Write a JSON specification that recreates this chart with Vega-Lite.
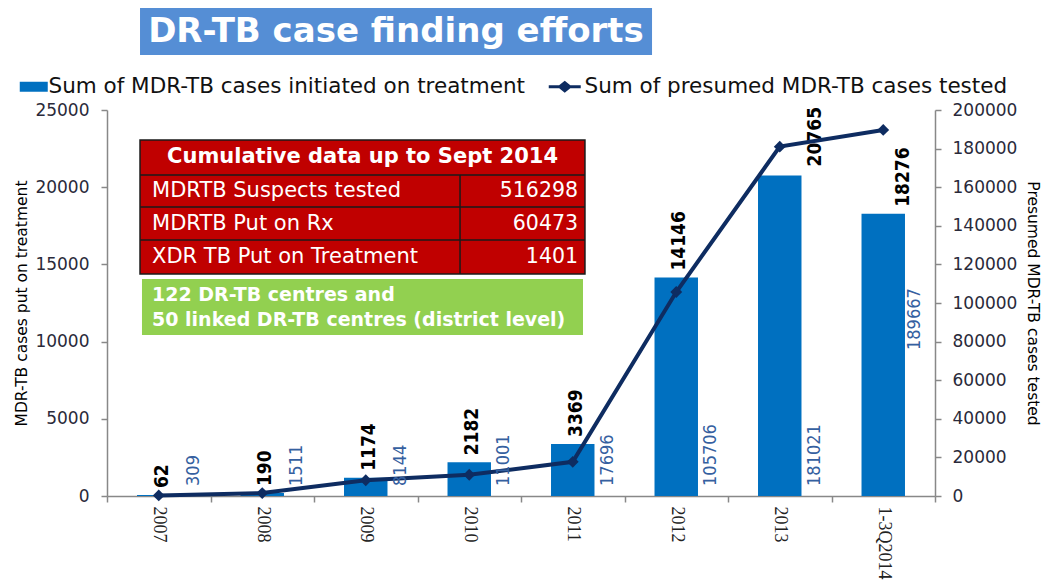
{
"$schema": "https://vega.github.io/schema/vega-lite/v6.json",
"width": 828,
"height": 386,
"autosize": {"type": "none"},
"padding": {"left": 107, "top": 110, "right": 113, "bottom": 85},
"background": "white",
"config": {"view": {"stroke": null}},
"datasets": {
"main": [
{"year": "2007", "treated": 62, "tested": 309},
{"year": "2008", "treated": 190, "tested": 1511},
{"year": "2009", "treated": 1174, "tested": 8144},
{"year": "2010", "treated": 2182, "tested": 11001},
{"year": "2011", "treated": 3369, "tested": 17696},
{"year": "2012", "treated": 14146, "tested": 105706},
{"year": "2013", "treated": 20765, "tested": 181021},
{"year": "1-3Q2014", "treated": 18276, "tested": 189667}
],
"table": [
{"item": "MDRTB Suspects tested", "value": 516298},
{"item": "MDRTB Put on Rx", "value": 60473},
{"item": "XDR TB Put on Treatment", "value": 1401}
]
},
"layer": [
{
"data": {"name": "main"},
"layer": [
{
"layer": [
{
"mark": {"type": "bar", "width": {"band": 0.42}},
"encoding": {
"x": {"field": "year", "type": "ordinal", "sort": null,
"scale": {"domain": ["2007","2008","2009","2010","2011","2012","2013","1-3Q2014"], "paddingInner": 0, "paddingOuter": 0},
"axis": {"title": null, "labelAngle": 90, "labelAlign": "left", "labelBaseline": "middle", "labelFont": "Liberation Serif", "labelFontSize": 18, "labelColor": "#222", "tickBand": "extent", "tickSize": 6, "tickColor": "#888", "tickWidth": 1.5, "domainColor": "#888", "domainWidth": 1.5, "labelPadding": 4, "grid": false}},
"y": {"field": "treated", "type": "quantitative", "scale": {"domain": [0, 25000], "nice": false},
"axis": {"title": "MDR-TB cases put on treatment", "values": [0,5000,10000,15000,20000,25000], "format": "d", "labelOverlap": false, "labelFlush": false, "grid": false, "tickSize": 6, "tickColor": "#888", "tickWidth": 1.5, "domainColor": "#888", "domainWidth": 1.5, "labelFont": "DejaVu Sans", "labelFontSize": 17, "labelColor": "#2a2a3a", "labelPadding": 12, "titleFont": "DejaVu Sans", "titleFontSize": 15.5, "titleFontWeight": "normal", "titleColor": "#000", "titlePadding": 5}},
"fill": {"datum": "Sum of MDR-TB cases initiated on treatment", "type": "nominal", "scale": {"range": ["#0070C0"]},
"legend": {"title": null, "orient": "none", "legendX": -84, "legendY": -34, "padding": 0, "symbolType": "M-2.8,-1H2.8V1H-2.8Z", "symbolSize": 100, "symbolStrokeWidth": 0, "labelFont": "DejaVu Sans", "labelFontSize": 21.5, "labelColor": "#111", "labelOffset": 4, "labelLimit": 700}}
}
},
{
"transform": [{"filter": "datum.year != '2013' && datum.year != '1-3Q2014'"}],
"mark": {"type": "text", "angle": 270, "align": "left", "baseline": "middle", "dx": 7, "font": "DejaVu Sans Condensed, Liberation Sans, sans-serif", "fontSize": 19, "fontWeight": "bold", "color": "#000"},
"encoding": {
"x": {"field": "year", "type": "ordinal", "bandPosition": 0.53},
"y": {"field": "treated", "type": "quantitative"},
"text": {"field": "treated", "type": "quantitative", "format": "d"}
}
},
{
"transform": [{"filter": "datum.year == '2013'"}],
"mark": {"type": "text", "angle": 270, "align": "left", "baseline": "middle", "dx": 9, "font": "DejaVu Sans Condensed, Liberation Sans, sans-serif", "fontSize": 19, "fontWeight": "bold", "color": "#000"},
"encoding": {
"x": {"field": "year", "type": "ordinal", "bandPosition": 0.84},
"y": {"field": "treated", "type": "quantitative"},
"text": {"field": "treated", "type": "quantitative", "format": "d"}
}
},
{
"transform": [{"filter": "datum.year == '1-3Q2014'"}],
"mark": {"type": "text", "angle": 270, "align": "left", "baseline": "middle", "dx": 7, "font": "DejaVu Sans Condensed, Liberation Sans, sans-serif", "fontSize": 19, "fontWeight": "bold", "color": "#000"},
"encoding": {
"x": {"field": "year", "type": "ordinal", "bandPosition": 0.69},
"y": {"field": "treated", "type": "quantitative"},
"text": {"field": "treated", "type": "quantitative", "format": "d"}
}
}
]
},
{
"layer": [
{
"mark": {"type": "line", "strokeWidth": 4},
"encoding": {
"x": {"field": "year", "type": "ordinal"},
"y": {"field": "tested", "type": "quantitative", "scale": {"domain": [0, 200000], "nice": false},
"axis": {"orient": "right", "title": "Presumed MDR-TB cases tested", "values": [0,20000,40000,60000,80000,100000,120000,140000,160000,180000,200000], "format": "d", "labelOverlap": false, "labelFlush": false, "grid": false, "tickSize": 6, "tickColor": "#888", "tickWidth": 1.5, "domainColor": "#888", "domainWidth": 1.5, "labelFont": "DejaVu Sans", "labelFontSize": 17, "labelColor": "#2a2a3a", "labelPadding": 11, "titleFont": "DejaVu Sans", "titleFontSize": 15.5, "titleFontWeight": "normal", "titleColor": "#000", "titlePadding": 8}},
"stroke": {"datum": "Sum of presumed MDR-TB cases tested", "type": "nominal", "scale": {"range": ["#0E2C61"]},
"legend": {"title": null, "orient": "none", "legendX": 447, "legendY": -34, "padding": 0, "symbolType": "M-3.2,0H3.2M-1,0L0,-0.8L1,0L0,0.8Z", "symbolSize": 100, "symbolStrokeWidth": 3, "symbolFillColor": "#0E2C61", "labelFont": "DejaVu Sans", "labelFontSize": 21.5, "labelColor": "#111", "labelOffset": 9, "labelLimit": 700}}
}
},
{
"mark": {"type": "point", "shape": "diamond", "filled": true, "size": 140, "color": "#0E2C61", "opacity": 1},
"encoding": {
"x": {"field": "year", "type": "ordinal"},
"y": {"field": "tested", "type": "quantitative",
"axis": {"orient": "right", "title": "Presumed MDR-TB cases tested", "values": [0,20000,40000,60000,80000,100000,120000,140000,160000,180000,200000], "format": "d", "labelOverlap": false, "labelFlush": false, "grid": false, "tickSize": 6, "tickColor": "#888", "tickWidth": 1.5, "domainColor": "#888", "domainWidth": 1.5, "labelFont": "DejaVu Sans", "labelFontSize": 17, "labelColor": "#2a2a3a", "labelPadding": 11, "titleFont": "DejaVu Sans", "titleFontSize": 15.5, "titleFontWeight": "normal", "titleColor": "#000", "titlePadding": 8}}
}
},
{
"transform": [{"filter": "datum.year != '1-3Q2014'"}],
"mark": {"type": "text", "angle": 270, "align": "left", "baseline": "middle", "font": "DejaVu Sans Condensed, Liberation Sans, sans-serif", "fontSize": 18, "color": "#3560A0"},
"encoding": {
"x": {"field": "year", "type": "ordinal", "bandPosition": 0.84},
"y": {"datum": 5200, "type": "quantitative",
"axis": {"orient": "right", "title": "Presumed MDR-TB cases tested", "values": [0,20000,40000,60000,80000,100000,120000,140000,160000,180000,200000], "format": "d", "labelOverlap": false, "labelFlush": false, "grid": false, "tickSize": 6, "tickColor": "#888", "tickWidth": 1.5, "domainColor": "#888", "domainWidth": 1.5, "labelFont": "DejaVu Sans", "labelFontSize": 17, "labelColor": "#2a2a3a", "labelPadding": 11, "titleFont": "DejaVu Sans", "titleFontSize": 15.5, "titleFontWeight": "normal", "titleColor": "#000", "titlePadding": 8}},
"text": {"field": "tested", "type": "quantitative", "format": "d"}
}
},
{
"transform": [{"filter": "datum.year == '1-3Q2014'"}],
"mark": {"type": "text", "angle": 270, "align": "left", "baseline": "middle", "font": "DejaVu Sans Condensed, Liberation Sans, sans-serif", "fontSize": 18, "color": "#3560A0"},
"encoding": {
"x": {"field": "year", "type": "ordinal", "bandPosition": 0.81},
"y": {"datum": 75648, "type": "quantitative",
"axis": {"orient": "right", "title": "Presumed MDR-TB cases tested", "values": [0,20000,40000,60000,80000,100000,120000,140000,160000,180000,200000], "format": "d", "labelOverlap": false, "labelFlush": false, "grid": false, "tickSize": 6, "tickColor": "#888", "tickWidth": 1.5, "domainColor": "#888", "domainWidth": 1.5, "labelFont": "DejaVu Sans", "labelFontSize": 17, "labelColor": "#2a2a3a", "labelPadding": 11, "titleFont": "DejaVu Sans", "titleFontSize": 15.5, "titleFontWeight": "normal", "titleColor": "#000", "titlePadding": 8}},
"text": {"field": "tested", "type": "quantitative", "format": "d"}
}
}
]
}
],
"resolve": {"scale": {"y": "independent"}}
},
{
"layer": [
{
"data": {"values": [{}]},
"mark": {"type": "rect", "color": "#558ED5"},
"encoding": {
"x": {"datum": 0.319, "type": "quantitative", "scale": {"domain": [0, 8], "nice": false}, "axis": null},
"x2": {"datum": 5.266},
"y": {"datum": 31606, "type": "quantitative", "scale": {"domain": [0, 25000], "nice": false}, "axis": null},
"y2": {"datum": 28562}
}
},
{
"data": {"values": [{}]},
"mark": {"type": "text", "text": "DR-TB case finding efforts", "align": "center", "baseline": "middle", "font": "DejaVu Sans", "fontSize": 34, "fontWeight": "bold", "color": "white"},
"encoding": {
"x": {"datum": 2.792, "type": "quantitative", "axis": null},
"y": {"datum": 30084, "type": "quantitative", "axis": null}
}
},
{
"data": {"values": [{}]},
"mark": {"type": "rect", "color": "#C00000", "stroke": "#1a1a1a", "strokeWidth": 1.5},
"encoding": {
"x": {"datum": 0.319, "type": "quantitative", "axis": null},
"x2": {"datum": 4.618},
"y": {"datum": 23057, "type": "quantitative", "axis": null},
"y2": {"datum": 14378}
}
},
{
"data": {"values": [{"yv": 20790}, {"yv": 18718}, {"yv": 16580}]},
"mark": {"type": "rule", "color": "#1a1a1a", "strokeWidth": 1.5},
"encoding": {
"x": {"datum": 0.319, "type": "quantitative", "axis": null},
"x2": {"datum": 4.618},
"y": {"field": "yv", "type": "quantitative", "axis": null}
}
},
{
"data": {"values": [{}]},
"mark": {"type": "rule", "color": "#1a1a1a", "strokeWidth": 1.5},
"encoding": {
"x": {"datum": 3.411, "type": "quantitative", "axis": null},
"y": {"datum": 20790, "type": "quantitative", "axis": null},
"y2": {"datum": 14378}
}
},
{
"data": {"values": [{}]},
"mark": {"type": "text", "text": "Cumulative data up to Sept 2014", "align": "center", "baseline": "middle", "font": "DejaVu Sans", "fontSize": 21, "fontWeight": "bold", "color": "white"},
"encoding": {
"x": {"datum": 2.469, "type": "quantitative", "axis": null},
"y": {"datum": 21956, "type": "quantitative", "axis": null}
}
},
{
"data": {"name": "table"},
"transform": [{"filter": "datum.item == 'MDRTB Suspects tested'"}],
"layer": [
{"mark": {"type": "text", "align": "left", "baseline": "middle", "font": "DejaVu Sans", "fontSize": 21, "color": "white"},
"encoding": {"x": {"datum": 0.435, "type": "quantitative", "axis": null}, "y": {"datum": 19754, "type": "quantitative", "axis": null}, "text": {"field": "item"}}},
{"mark": {"type": "text", "align": "right", "baseline": "middle", "font": "DejaVu Sans", "fontSize": 20.5, "color": "white"},
"encoding": {"x": {"datum": 4.551, "type": "quantitative", "axis": null}, "y": {"datum": 19754, "type": "quantitative", "axis": null}, "text": {"field": "value", "type": "quantitative", "format": "d"}}}
]
},
{
"data": {"name": "table"},
"transform": [{"filter": "datum.item == 'MDRTB Put on Rx'"}],
"layer": [
{"mark": {"type": "text", "align": "left", "baseline": "middle", "font": "DejaVu Sans", "fontSize": 21, "color": "white"},
"encoding": {"x": {"datum": 0.435, "type": "quantitative", "axis": null}, "y": {"datum": 17617, "type": "quantitative", "axis": null}, "text": {"field": "item"}}},
{"mark": {"type": "text", "align": "right", "baseline": "middle", "font": "DejaVu Sans", "fontSize": 20.5, "color": "white"},
"encoding": {"x": {"datum": 4.551, "type": "quantitative", "axis": null}, "y": {"datum": 17617, "type": "quantitative", "axis": null}, "text": {"field": "value", "type": "quantitative", "format": "d"}}}
]
},
{
"data": {"name": "table"},
"transform": [{"filter": "datum.item == 'XDR TB Put on Treatment'"}],
"layer": [
{"mark": {"type": "text", "align": "left", "baseline": "middle", "font": "DejaVu Sans", "fontSize": 21, "color": "white"},
"encoding": {"x": {"datum": 0.435, "type": "quantitative", "axis": null}, "y": {"datum": 15479, "type": "quantitative", "axis": null}, "text": {"field": "item"}}},
{"mark": {"type": "text", "align": "right", "baseline": "middle", "font": "DejaVu Sans", "fontSize": 20.5, "color": "white"},
"encoding": {"x": {"datum": 4.551, "type": "quantitative", "axis": null}, "y": {"datum": 15479, "type": "quantitative", "axis": null}, "text": {"field": "value", "type": "quantitative", "format": "d"}}}
]
},
{
"data": {"values": [{}]},
"mark": {"type": "rect", "color": "#92D050"},
"encoding": {
"x": {"datum": 0.338, "type": "quantitative", "axis": null},
"x2": {"datum": 4.599},
"y": {"datum": 14054, "type": "quantitative", "axis": null},
"y2": {"datum": 10427}
}
},
{
"data": {"values": [{}]},
"mark": {"type": "text", "text": "122 DR-TB centres and", "align": "left", "baseline": "middle", "font": "DejaVu Sans", "fontSize": 19, "fontWeight": "bold", "color": "white"},
"encoding": {
"x": {"datum": 0.435, "type": "quantitative", "axis": null},
"y": {"datum": 13018, "type": "quantitative", "axis": null}
}
},
{
"data": {"values": [{}]},
"mark": {"type": "text", "text": "50 linked DR-TB centres (district level)", "align": "left", "baseline": "middle", "font": "DejaVu Sans", "fontSize": 19, "fontWeight": "bold", "color": "white"},
"encoding": {
"x": {"datum": 0.435, "type": "quantitative", "axis": null},
"y": {"datum": 11399, "type": "quantitative", "axis": null}
}
}
]
}
],
"resolve": {"scale": {"x": "independent", "y": "independent"}}
}
